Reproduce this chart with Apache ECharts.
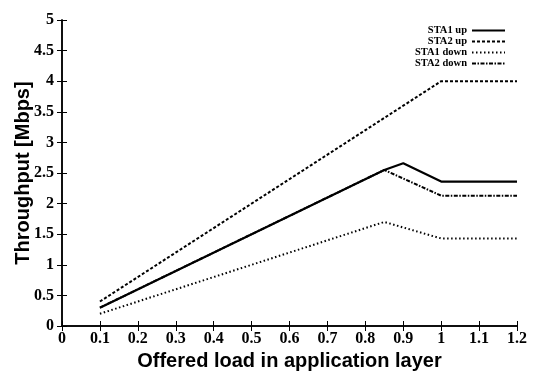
<!DOCTYPE html>
<html>
<head>
<meta charset="utf-8">
<script src="https://cdn.jsdelivr.net/npm/echarts@6/dist/echarts.min.js"></script>
<style>
  html, body { margin: 0; padding: 0; background: #fff; }
  #chart { width: 535px; height: 372px; }
</style>
</head>
<body>
<div id="chart"></div>
<script>
// offered load (x) and throughput values
var offeredLoad = [0.1, 0.85, 0.9, 1.0, 1.2];
var sta1Up = [0.3, 2.55, 2.66, 2.36, 2.36];
var sta2Up = [0.4, 3.4, 3.6, 4.0, 4.0];
var sta1Down = [0.2, 1.7, 1.61, 1.43, 1.43];
var sta2Down = [0.3, 2.55, 2.41, 2.13, 2.13];
var seriesNames = ["STA1 up", "STA2 up", "STA1 down", "STA2 down"];

function pairs(ys) {
  return offeredLoad.map(function (x, i) {
    return [x, ys[i]];
  });
}

var chart = echarts.init(document.getElementById("chart"));

var tickFont = {
  fontFamily: "Liberation Serif",
  fontWeight: "bold",
  fontSize: 16,
  color: "#000",
};
var titleFont = {
  fontFamily: "Liberation Sans",
  fontWeight: "bold",
  fontSize: 20,
  color: "#000",
};

function lineSeries(name, ys, type, width) {
  return {
    name: name,
    type: "line",
    data: pairs(ys),
    symbol: "none",
    silent: true,
    lineStyle: { color: "#000", width: width, type: type },
    itemStyle: { color: "#000" },
  };
}

chart.setOption({
  animation: false,
  grid: { left: 62, right: 18, top: 20, bottom: 46, outerBoundsMode: "none" },
  legend: {
    data: seriesNames,
    orient: "vertical",
    right: 29,
    top: 25,
    padding: 0,
    align: "right",
    itemGap: 0,
    itemWidth: 33,
    itemHeight: 8.5,
    itemStyle: { opacity: 0 },
    textStyle: {
      fontFamily: "Liberation Serif",
      fontWeight: "bold",
      fontSize: 10.5,
      lineHeight: 8.5,
      color: "#000",
    },
  },
  xAxis: [
    {
      type: "value",
      min: 0,
      max: 1.2,
      interval: 0.1,
      name: "Offered load in application layer",
      nameLocation: "middle",
      nameGap: 25,
      nameMoveOverlap: false,
      nameTextStyle: titleFont,
      axisLine: { lineStyle: { color: "#000", width: 1.5 } },
      axisTick: { inside: true, length: 5, lineStyle: { color: "#000" } },
      axisLabel: Object.assign({ margin: 5 }, tickFont, {
        formatter: function (v) {
          return Math.round(v * 10) / 10 + "";
        },
      }),
      splitLine: { show: false },
    },
    {
      type: "value",
      position: "top",
      min: 0,
      max: 1.2,
      interval: 0.1,
      axisLine: { lineStyle: { color: "#000", width: 1.5 } },
      axisTick: { inside: true, length: 5, lineStyle: { color: "#000" } },
      axisLabel: { show: false },
      splitLine: { show: false },
    },
  ],
  yAxis: [
    {
      type: "value",
      min: 0,
      max: 5,
      interval: 0.5,
      name: "Throughput [Mbps]",
      nameLocation: "middle",
      nameGap: 29,
      nameMoveOverlap: false,
      nameTextStyle: titleFont,
      axisLine: { show: true, lineStyle: { color: "#000", width: 1.5 } },
      axisTick: { show: true, inside: true, length: 5, lineStyle: { color: "#000" } },
      axisLabel: Object.assign({ margin: 8 }, tickFont),
      splitLine: { show: false },
    },
    {
      type: "value",
      position: "right",
      min: 0,
      max: 5,
      interval: 0.5,
      axisLine: { show: true, lineStyle: { color: "#000", width: 1.5 } },
      axisTick: { show: true, inside: true, length: 5, lineStyle: { color: "#000" } },
      axisLabel: { show: false },
      splitLine: { show: false },
    },
  ],
  series: [
    lineSeries("STA1 up", sta1Up, "solid", 2.2),
    lineSeries("STA2 up", sta2Up, [3, 2], 2),
    lineSeries("STA1 down", sta1Down, [1.5, 2.5], 2),
    lineSeries("STA2 down", sta2Down, [4, 1.5, 1.5, 1.5], 2),
  ],
});
</script>
</body>
</html>
